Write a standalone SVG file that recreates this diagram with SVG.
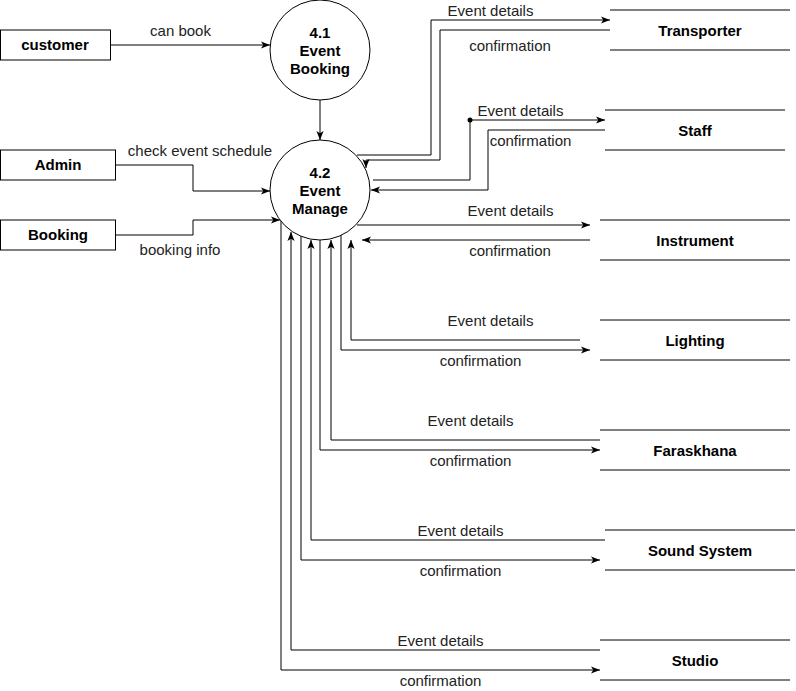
<svg xmlns="http://www.w3.org/2000/svg" width="796" height="691" viewBox="0 0 796 691">
<style>
  .ln{fill:none;stroke:#000;stroke-width:1}
  .arr{fill:none;stroke:#000;stroke-width:1;marker-end:url(#ah)}
  .box{fill:#fff;stroke:#000;stroke-width:1}
  .nt{font-family:"Liberation Sans",Arial,sans-serif;font-size:15px;font-weight:bold;fill:#000;text-anchor:middle;dominant-baseline:central;transform:translateY(-1px)}
  .lb{font-family:"Liberation Sans",Arial,sans-serif;font-size:15px;fill:#222;text-anchor:middle;dominant-baseline:central;transform:translateY(-1px)}
</style>
<defs>
  <marker id="ah" viewBox="0 0 10 10" refX="10" refY="5" markerWidth="9" markerHeight="9" markerUnits="userSpaceOnUse" orient="auto">
    <path d="M0,1 L10,5 L0,9 L2.5,5 z" fill="#000"/>
  </marker>
</defs>
<rect width="796" height="691" fill="#fff"/>

<g id="connectors">
  <path class="arr" d="M110,45 H270"/>
  <path class="arr" d="M320,100 V140"/>
  <path class="arr" d="M115,165 H193 V191 H270"/>
  <path class="arr" d="M115,235 H193 V220 H280"/>
  <path class="arr" d="M357,155 H431 V20 H610"/>
  <path class="arr" d="M610,30 H440 V160 H366 V168"/>
  <path class="arr" d="M373,180 H470 V120 H605"/>
  <circle cx="470" cy="120" r="2.5" fill="#000"/>
  <path class="arr" d="M605,130 H488 V190 H371"/>
  <path class="arr" d="M357,225 H590"/>
  <path class="arr" d="M590,240 H362"/>
  <path class="arr" d="M580,340 H351 V240"/>
  <path class="arr" d="M341,235 V350 H590"/>
  <path class="arr" d="M600,440 H331 V240"/>
  <path class="arr" d="M320,240 V450 H600"/>
  <path class="arr" d="M605,540 H311 V240"/>
  <path class="arr" d="M301,236 V560 H600"/>
  <path class="arr" d="M600,650 H291 V232"/>
  <path class="arr" d="M281,221 V670 H600"/>

  <text class="lb" x="180.5" y="31">can book</text>
  <text class="lb" x="200" y="151">check event schedule</text>
  <text class="lb" x="180" y="250">booking info</text>
  <text class="lb" x="490.5" y="11">Event details</text>
  <text class="lb" x="510" y="46">confirmation</text>
  <text class="lb" x="520.5" y="111">Event details</text>
  <text class="lb" x="530.5" y="141">confirmation</text>
  <text class="lb" x="510.5" y="211">Event details</text>
  <text class="lb" x="510" y="251">confirmation</text>
  <text class="lb" x="490.5" y="321">Event details</text>
  <text class="lb" x="480.5" y="361">confirmation</text>
  <text class="lb" x="470.5" y="421">Event details</text>
  <text class="lb" x="470.5" y="461">confirmation</text>
  <text class="lb" x="460.5" y="531">Event details</text>
  <text class="lb" x="460.5" y="571">confirmation</text>
  <text class="lb" x="440.5" y="641">Event details</text>
  <text class="lb" x="440.5" y="681">confirmation</text>
</g>

<g id="customer">
  <rect class="box" x="0.5" y="30" width="110" height="30"/>
  <text class="nt" x="55" y="45">customer</text>
</g>
<g id="admin">
  <rect class="box" x="0.5" y="150" width="115" height="30"/>
  <text class="nt" x="58" y="165">Admin</text>
</g>
<g id="booking">
  <rect class="box" x="0.5" y="220" width="115" height="30"/>
  <text class="nt" x="58" y="235">Booking</text>
</g>

<g id="p41">
  <circle class="box" cx="320" cy="50" r="50"/>
  <text class="nt" x="320" y="33">4.1</text>
  <text class="nt" x="320" y="51">Event</text>
  <text class="nt" x="320" y="69">Booking</text>
</g>
<g id="p42">
  <circle class="box" cx="320" cy="190" r="50"/>
  <text class="nt" x="320" y="173">4.2</text>
  <text class="nt" x="320" y="191">Event</text>
  <text class="nt" x="320" y="209">Manage</text>
</g>

<g id="transporter">
  <path class="ln" d="M610,10 H790 M610,50 H790"/>
  <text class="nt" x="700" y="31">Transporter</text>
</g>
<g id="staff">
  <path class="ln" d="M605,110 H785 M605,150 H785"/>
  <text class="nt" x="695" y="131">Staff</text>
</g>
<g id="instrument">
  <path class="ln" d="M600,220 H790 M600,260 H790"/>
  <text class="nt" x="695" y="241">Instrument</text>
</g>
<g id="lighting">
  <path class="ln" d="M600,320 H790 M600,360 H790"/>
  <text class="nt" x="695" y="341">Lighting</text>
</g>
<g id="faraskhana">
  <path class="ln" d="M600,430 H790 M600,470 H790"/>
  <text class="nt" x="695" y="451">Faraskhana</text>
</g>
<g id="soundsystem">
  <path class="ln" d="M605,530 H795 M605,570 H795"/>
  <text class="nt" x="700" y="551">Sound System</text>
</g>
<g id="studio">
  <path class="ln" d="M600,640 H790 M600,680 H790"/>
  <text class="nt" x="695" y="661">Studio</text>
</g>
</svg>
